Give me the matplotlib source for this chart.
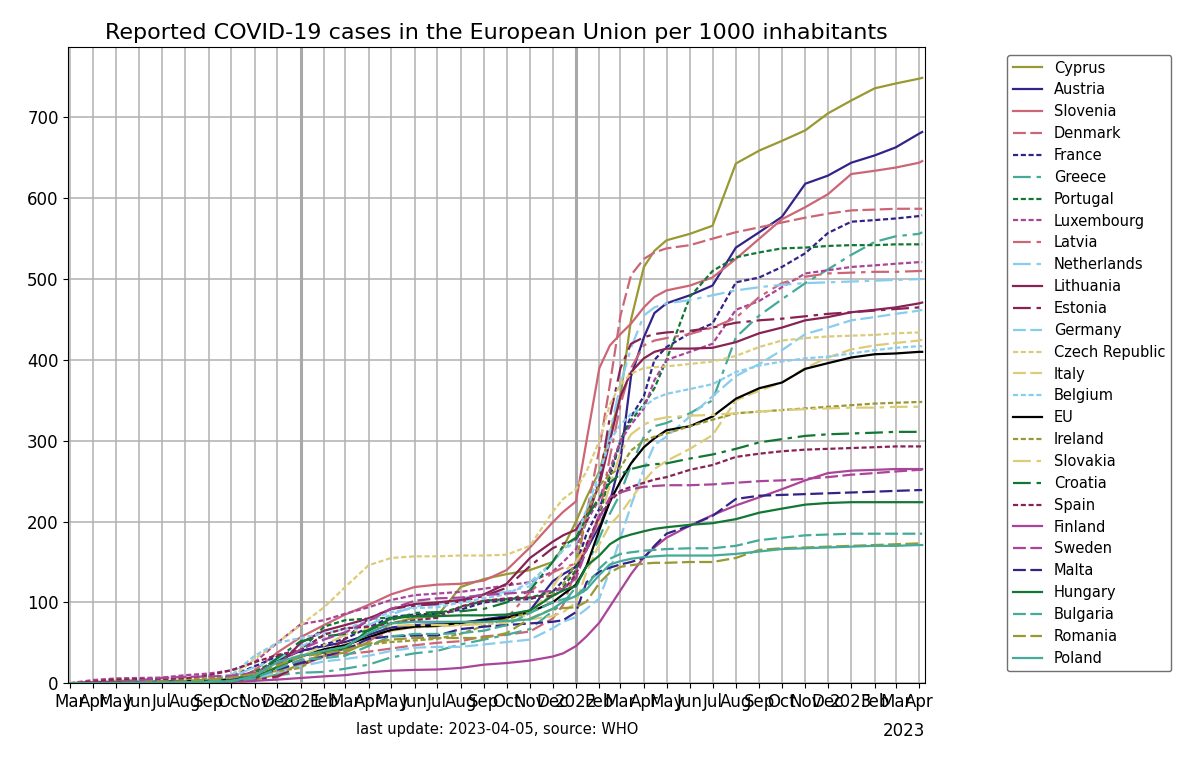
import numpy as np
import pandas as pd
import matplotlib
matplotlib.use("Agg")
import matplotlib.pyplot as plt
import matplotlib.dates as mdates

# Stichtage: Monatsanfang, um den Jahreswechsel 2021/22 halbmonatlich
dates = pd.to_datetime([
    "2020-03-01", "2020-04-01", "2020-05-01", "2020-06-01", "2020-07-01",
    "2020-08-01", "2020-09-01", "2020-10-01", "2020-11-01", "2020-12-01",
    "2021-01-01", "2021-02-01", "2021-03-01", "2021-04-01", "2021-05-01",
    "2021-06-01", "2021-07-01", "2021-08-01", "2021-09-01", "2021-10-01",
    "2021-11-01", "2021-12-01",
    "2021-12-15", "2022-01-01", "2022-01-15", "2022-02-01", "2022-02-15",
    "2022-03-01", "2022-03-15", "2022-04-01", "2022-04-15", "2022-05-01",
    "2022-06-01", "2022-07-01", "2022-08-01", "2022-09-01", "2022-10-01",
    "2022-11-01", "2022-12-01",
    "2023-01-01", "2023-02-01", "2023-03-01", "2023-04-01", "2023-04-05",
])

# Fälle pro 1000 Einwohner
cyprus = [0, 0.4, 1.0, 1.1, 1.2, 1.4, 1.7, 2.0, 4.5, 11,
          24, 34, 38, 51, 74, 81, 83, 119, 129, 135, 140, 150,
          168, 200, 230, 262, 310, 355, 450, 515, 535, 548,
          556, 566, 643, 659, 671, 684, 705,
          721, 736, 742, 748, 749]
austria = [0, 1.2, 1.7, 1.8, 2.0, 2.4, 3.0, 5.0, 11, 28,
           40, 46, 51, 60, 69, 72, 73, 74, 79, 83, 90, 126,
           135, 144, 165, 195, 225, 276, 380, 428, 458, 470,
           480, 492, 539, 558, 577, 618, 628,
           644, 653, 663, 680, 682]
slovenia = [0, 0.5, 0.7, 0.7, 0.8, 1.0, 1.5, 2.0, 16, 38,
            57, 72, 85, 97, 110, 119, 122, 123, 127, 140, 168, 199,
            212, 225, 300, 390, 418, 432, 445, 465, 478, 486,
            492, 502, 525, 550, 574, 589, 605,
            630, 634, 638, 644, 646]
denmark = [0, 0.5, 1.6, 2.0, 2.2, 2.3, 3.0, 4.6, 8, 14,
           28, 34, 36, 39, 43, 47, 50, 52, 58, 60, 64, 80,
           97, 140, 210, 290, 370, 455, 505, 525, 533, 538,
           542, 550, 558, 564, 570, 576, 581,
           585, 586, 587, 587, 587]
france = [0, 0.8, 2.0, 2.3, 2.5, 2.8, 4.0, 9, 21, 33,
          39, 48, 55, 69, 82, 85, 86, 91, 100, 103, 104, 113,
          127, 145, 185, 216, 255, 300, 330, 355, 400, 416,
          433, 445, 496, 502, 515, 532, 557,
          571, 573, 575, 578, 579]
greece = [0, 0.15, 0.25, 0.3, 0.33, 0.45, 1.0, 1.7, 4, 10,
          13, 14, 18, 23, 32, 37, 40, 48, 54, 60, 67, 89,
          99, 119, 145, 180, 210, 235, 270, 305, 318, 322,
          334, 350, 428, 455, 475, 495, 512,
          530, 546, 553, 556, 558]
portugal = [0, 0.8, 2.4, 3.1, 4.1, 5.0, 5.7, 7.4, 14, 29,
            41, 70, 78, 80, 81, 83, 86, 94, 102, 104, 106, 113,
            119, 140, 170, 205, 260, 300, 325, 345, 365, 400,
            478, 510, 527, 533, 538, 539, 541,
            542, 542, 543, 543, 543]
luxembourg = [0.1, 4, 6, 6.5, 7, 10, 12, 16, 26, 50,
              73, 78, 86, 94, 103, 109, 111, 113, 117, 121, 125, 138,
              150, 166, 200, 228, 265, 300, 320, 340, 375, 400,
              410, 420, 462, 473, 490, 507, 511,
              515, 517, 519, 521, 521]
latvia = [0, 0.2, 0.5, 0.6, 0.6, 0.7, 0.7, 1.0, 2.5, 7.5,
          22, 33, 43, 53, 65, 70, 72, 73, 75, 80, 113, 137,
          143, 148, 165, 210, 280, 345, 390, 418, 424, 427,
          432, 440, 452, 478, 495, 503, 507,
          508, 509, 509, 510, 510]
netherlands = [0, 0.7, 2.3, 2.7, 2.9, 3.2, 4.0, 7.5, 20, 30,
               46, 55, 63, 72, 85, 95, 97, 105, 110, 113, 120, 150,
               165, 175, 210, 255, 310, 370, 415, 455, 465, 470,
               474, 480, 486, 490, 493, 495, 496,
               497, 498, 499, 500, 500]
lithuania = [0, 0.2, 0.5, 0.6, 0.7, 0.8, 1.0, 1.5, 5.5, 20,
             50, 65, 72, 80, 92, 98, 100, 103, 110, 123, 155, 175,
             183, 190, 210, 245, 300, 355, 385, 402, 410, 414,
             414, 415, 422, 433, 440, 449, 453,
             459, 462, 465, 470, 471]
estonia = [0, 0.6, 1.3, 1.4, 1.5, 1.6, 1.9, 2.6, 3.8, 8.5,
           22, 35, 55, 80, 92, 96, 98, 101, 108, 118, 145, 167,
           173, 178, 200, 250, 330, 390, 420, 428, 432, 434,
           436, 440, 446, 449, 451, 454, 457,
           459, 461, 463, 465, 466]
germany = [0.05, 0.9, 1.9, 2.2, 2.4, 2.5, 2.9, 3.5, 6.4, 13,
           21, 27, 30, 34, 40, 44, 45, 45, 48, 51, 54, 68,
           76, 82, 92, 105, 140, 180, 220, 265, 295, 305,
           330, 355, 380, 395, 412, 432, 440,
           449, 453, 457, 461, 462]
czech = [0, 0.3, 0.7, 0.8, 1.1, 1.5, 2.3, 6.5, 30, 50,
         72, 94, 119, 146, 155, 157, 157, 158, 158, 159, 170, 212,
         228, 240, 262, 300, 345, 370, 383, 390, 391, 392,
         395, 398, 405, 416, 424, 427, 429,
         430, 431, 433, 434, 435]
italy = [0.02, 1.7, 3.4, 3.8, 4.0, 4.1, 4.5, 5.1, 11, 26,
         35, 42, 48, 57, 65, 69, 70, 72, 75, 77, 79, 83,
         88, 100, 138, 172, 196, 210, 228, 250, 265, 275,
         290, 307, 350, 362, 372, 390, 403,
         413, 418, 421, 424, 425]
belgium = [0, 1.1, 4.2, 5.0, 5.4, 6.0, 7.4, 10, 34, 50,
           56, 62, 67, 78, 88, 93, 94, 100, 105, 110, 125, 150,
           165, 180, 215, 260, 300, 320, 333, 342, 352, 358,
           364, 370, 385, 393, 398, 402, 404,
           408, 412, 415, 417, 417]
eu = [0, 0.6, 1.2, 1.5, 1.8, 2.3, 3.0, 4.5, 8, 20,
      33, 42, 47, 57, 66, 70, 71, 75, 78, 81, 88, 100,
      110, 122, 145, 190, 225, 250, 272, 292, 303, 313,
      318, 330, 352, 365, 372, 389, 396,
      403, 407, 408, 410, 410]
ireland = [0, 0.6, 4.3, 5.0, 5.2, 5.4, 6.0, 7.0, 12.5, 15,
           19, 40, 45, 48, 51, 53, 55, 61, 71, 79, 88, 110,
           122, 150, 210, 245, 258, 267, 288, 300, 305, 309,
           318, 326, 334, 336, 338, 340, 342,
           344, 346, 347, 348, 348]
slovakia = [0, 0.07, 0.25, 0.28, 0.3, 0.4, 0.7, 2.0, 11, 20,
            33, 47, 60, 68, 71, 72, 72, 72, 73, 75, 86, 119,
            138, 150, 170, 200, 245, 285, 308, 320, 326, 329,
            331, 332, 334, 336, 338, 339, 340,
            341, 341, 342, 342, 342]
croatia = [0, 0.2, 0.5, 0.55, 0.7, 1.2, 2.4, 3.8, 11, 31,
           52, 58, 61, 65, 78, 87, 88, 89, 92, 100, 115, 150,
           170, 180, 205, 230, 248, 259, 265, 269, 271, 272,
           278, 283, 290, 298, 302, 306, 308,
           309, 310, 311, 311, 311]
spain = [0, 2.1, 4.6, 5.1, 5.3, 6.2, 9.8, 16, 26, 35,
         41, 60, 68, 70, 74, 78, 81, 95, 102, 105, 106, 108,
         115, 134, 172, 206, 225, 238, 243, 248, 252, 255,
         264, 270, 280, 284, 287, 289, 290,
         291, 292, 293, 293, 293]
finland = [0, 0.25, 0.9, 1.2, 1.3, 1.35, 1.5, 1.9, 3.0, 4.5,
           6.5, 8.5, 10, 13.5, 15.5, 16.5, 17, 19, 23, 25, 28, 33,
           37, 46, 58, 75, 95, 115, 135, 156, 168, 180,
           195, 208, 220, 230, 240, 251, 260,
           263, 264, 265, 265, 265]
sweden = [0, 0.5, 2.0, 3.7, 6.6, 7.9, 8.4, 9.3, 13, 24,
          42, 54, 63, 77, 92, 102, 105, 106, 109, 111, 113, 114,
          117, 130, 165, 205, 230, 236, 240, 243, 244, 245,
          245, 246, 248, 250, 251, 253, 255,
          258, 260, 262, 264, 264]
malta = [0, 0.3, 0.9, 1.2, 1.3, 2.0, 4.0, 6.0, 9.0, 17,
         25, 33, 41, 55, 58, 59, 59, 67, 70, 72, 74, 76,
         78, 88, 125, 138, 143, 147, 150, 155, 170, 185,
         195, 207, 228, 232, 233, 234, 235,
         236, 237, 238, 239, 239]
hungary = [0, 0.05, 0.3, 0.4, 0.42, 0.45, 0.6, 3.0, 7.0, 20,
           34, 38, 43, 66, 80, 83, 83, 84, 84, 85, 90, 108,
           115, 120, 145, 158, 172, 180, 184, 188, 191, 193,
           196, 198, 203, 211, 216, 221, 223,
           224, 224, 224, 224, 224]
bulgaria = [0, 0.06, 0.2, 0.35, 0.7, 1.6, 2.4, 3.0, 6.0, 18,
            29, 31, 34, 46, 58, 61, 61, 62, 65, 72, 87, 100,
            104, 108, 120, 142, 154, 160, 162, 164, 165, 166,
            167, 167, 170, 177, 180, 183, 184,
            185, 185, 185, 185, 185]
romania = [0, 0.1, 0.6, 1.0, 1.4, 2.5, 4.4, 6.7, 11.5, 22,
           33, 37, 41, 49, 54, 56, 56, 56, 56, 62, 80, 92,
           93, 94, 101, 124, 137, 144, 146, 148, 149, 149,
           150, 150, 155, 165, 167, 168, 169,
           170, 171, 172, 173, 173]
poland = [0, 0.06, 0.35, 0.6, 0.9, 1.2, 1.7, 2.5, 9.0, 26,
          34, 40, 45, 62, 74, 76, 76, 76, 76, 77, 79, 92,
          101, 108, 116, 134, 147, 151, 154, 156, 157, 158,
          158, 158, 160, 163, 166, 167, 168,
          169, 170, 170, 171, 171]

# Paul Tol "muted"
rose, indigo, sand, green = '#CC6677', '#332288', '#DDCC77', '#117733'
cyan, wine, teal, olive, purple = '#88CCEE', '#882255', '#44AA99', '#999933', '#AA4499'

# Strichmuster wie im Original (kurze Striche statt Punkte)
solid = '-'
dashed = (0, (5.8, 2.0))
dotted = (0, (2.3, 1.2))
dashdot = (0, (8.0, 2.6, 2.0, 2.6))

series = [
    ("Cyprus", cyprus, olive, solid),
    ("Austria", austria, indigo, solid),
    ("Slovenia", slovenia, rose, solid),
    ("Denmark", denmark, rose, dashed),
    ("France", france, indigo, dotted),
    ("Greece", greece, teal, dashdot),
    ("Portugal", portugal, green, dotted),
    ("Luxembourg", luxembourg, purple, dotted),
    ("Latvia", latvia, rose, dashdot),
    ("Netherlands", netherlands, cyan, dashdot),
    ("Lithuania", lithuania, wine, solid),
    ("Estonia", estonia, wine, dashdot),
    ("Germany", germany, cyan, dashed),
    ("Czech Republic", czech, sand, dotted),
    ("Italy", italy, sand, dashed),
    ("Belgium", belgium, cyan, dotted),
    ("EU", eu, 'black', solid),
    ("Ireland", ireland, olive, dotted),
    ("Slovakia", slovakia, sand, dashdot),
    ("Croatia", croatia, green, dashdot),
    ("Spain", spain, wine, dotted),
    ("Finland", finland, purple, solid),
    ("Sweden", sweden, purple, dashed),
    ("Malta", malta, indigo, dashed),
    ("Hungary", hungary, green, solid),
    ("Bulgaria", bulgaria, teal, dashed),
    ("Romania", romania, olive, dashed),
    ("Poland", poland, teal, solid),
]

fig, ax = plt.subplots(figsize=(12, 7.6), dpi=100)
fig.subplots_adjust(left=0.057, right=0.771, top=0.938, bottom=0.101)

for name, vals, col, ls in series:
    ax.plot(dates, vals, color=col, linestyle=ls, linewidth=1.6, label=name)

ax.set_xlim(pd.Timestamp("2020-02-28"), pd.Timestamp("2023-04-09"))
ax.set_ylim(0, 787)

loc = mdates.MonthLocator()
ax.xaxis.set_major_locator(loc)
ax.xaxis.set_major_formatter(mdates.ConciseDateFormatter(loc))
ax.tick_params(axis='both', labelsize=12)
ax.set_yticks(range(0, 800, 100))
# Jahreszahl unten rechts (wie der Offset des ConciseDateFormatter)
ax.text(1.0, -0.061, "2023", transform=ax.transAxes, ha='right', va='top', fontsize=12)

ax.grid(True, color='#b0b0b0', linewidth=1.1)
for yr in ["2021-01-01", "2022-01-01"]:
    ax.axvline(pd.Timestamp(yr), color='#a8a8a8', linewidth=2.2, zorder=0.9)
ax.set_axisbelow(True)

ax.set_title("Reported COVID-19 cases in the European Union per 1000 inhabitants", fontsize=16)
ax.set_xlabel("last update: 2023-04-05, source: WHO", fontsize=10.5, labelpad=8)

ax.legend(loc='upper left', bbox_to_anchor=(1.096, 0.988), borderaxespad=0,
          fontsize=10.5, labelspacing=0.47, edgecolor='#707070', framealpha=1)

plt.savefig("out.png", dpi=100)
